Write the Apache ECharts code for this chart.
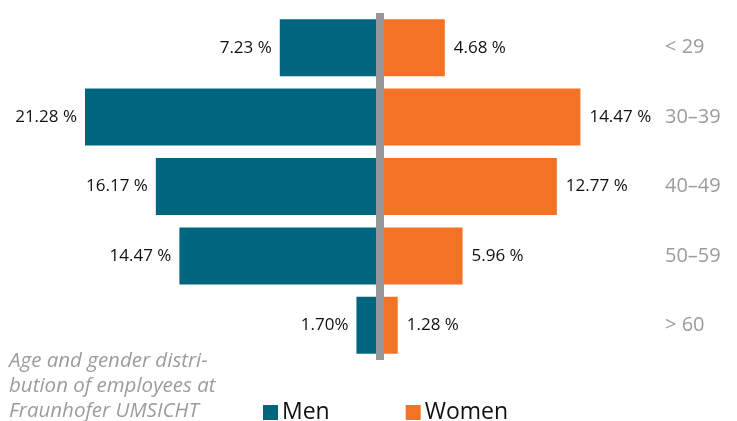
<!DOCTYPE html>
<html>
<head>
<meta charset="utf-8">
<script src="https://cdn.jsdelivr.net/npm/echarts@6/dist/echarts.min.js"></script>
<style>html,body{margin:0;padding:0;background:#fff}#container{width:737px;height:421px}</style>
</head>
<body>
<div id="container"></div>
<script>
  var dom = document.getElementById("container");
  var myChart = echarts.init(dom);

  var ageGroups = ['< 29', '30–39', '40–49', '50–59', '> 60'];
  var menValues = [7.23, 21.28, 16.17, 14.47, 1.70];
  var womenValues = [4.68, 14.47, 12.77, 5.96, 1.28];
  var menLabels = ['7.23 %', '21.28 %', '16.17 %', '14.47 %', '1.70%'];
  var womenLabels = ['4.68 %', '14.47 %', '12.77 %', '5.96 %', '1.28 %'];

  var fontFam = '"Open Sans", "Noto Sans", sans-serif';

  var option = {
      animation: false,
      textStyle: { fontFamily: fontFam },
      // caption bottom left
      title: {
          text: 'Age and gender distri-\nbution of employees at\nFraunhofer UMSICHT',
          left: 9,
          top: 349,
          padding: 0,
          textStyle: {
              color: '#9c9c9c',
              fontStyle: 'italic',
              fontWeight: 'normal',
              fontSize: 20.5,
              lineHeight: 25,
              fontFamily: fontFam
          }
      },
      legend: {
          left: 258,
          top: 396,
          itemWidth: 15,
          itemHeight: 15,
          itemGap: 76,
          icon: 'rect',
          textStyle: { fontSize: 23, color: '#111', fontFamily: fontFam, padding: [0, 0, 0, -1] },
          data: ['Men', 'Women']
      },
      grid: [
          { left: 75, width: 305, top: 13, height: 347 },
          { left: 380, width: 277, top: 13, height: 347 }
      ],
      xAxis: [
          { gridIndex: 0, type: 'value', min: 0, max: 22, inverse: true, show: false },
          { gridIndex: 1, type: 'value', min: 0, max: 20, show: false }
      ],
      yAxis: [
          { gridIndex: 0, type: 'category', data: ageGroups, inverse: true, show: false },
          {
              gridIndex: 1, type: 'category', data: ageGroups, inverse: true,
              position: 'right',
              axisLine: { show: false },
              axisTick: { show: false },
              axisLabel: { color: '#9c9c9c', fontSize: 20, margin: 8, fontFamily: fontFam }
          }
      ],
      series: [
          {
              name: 'Men',
              type: 'bar',
              xAxisIndex: 0,
              yAxisIndex: 0,
              barWidth: 57,
              itemStyle: { color: '#00657f' },
              label: {
                  show: true,
                  position: 'left',
                  distance: 8,
                  color: '#111',
                  fontSize: 17,
                  fontFamily: fontFam,
                  formatter: function (p) { return menLabels[p.dataIndex]; }
              },
              data: menValues
          },
          {
              name: 'Women',
              type: 'bar',
              xAxisIndex: 1,
              yAxisIndex: 1,
              barWidth: 57,
              itemStyle: { color: '#f37326' },
              label: {
                  show: true,
                  position: 'right',
                  distance: 9,
                  color: '#111',
                  fontSize: 17,
                  fontFamily: fontFam,
                  formatter: function (p) { return womenLabels[p.dataIndex]; }
              },
              markLine: {
                  silent: true,
                  symbol: 'none',
                  label: { show: false },
                  lineStyle: { color: '#98989c', width: 8, type: 'solid' },
                  data: [{ xAxis: 0 }]
              },
              data: womenValues
          }
      ]
  };
  myChart.setOption(option, true);
</script>
</body>
</html>
